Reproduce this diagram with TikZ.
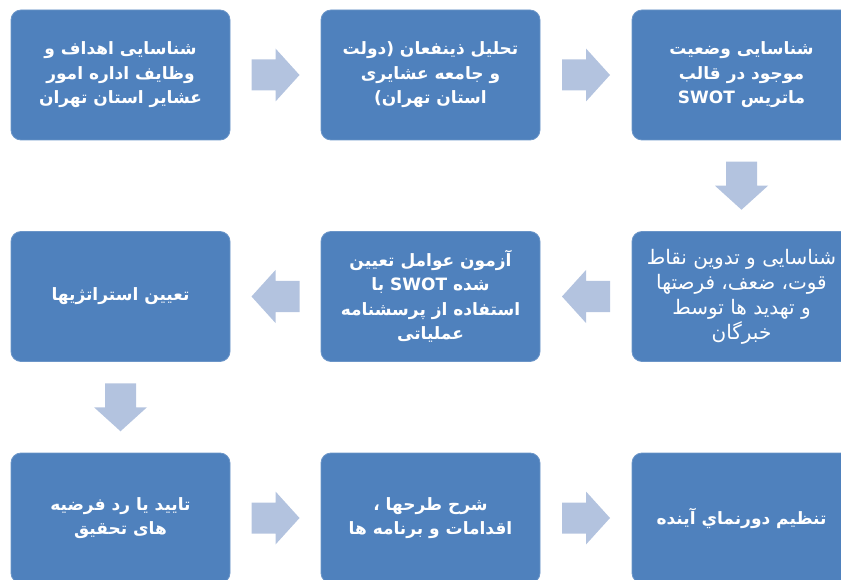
\documentclass[tikz,border=0pt]{standalone}
\usepackage{fontspec}
\TeXXeTstate=1
\newfontfamily\arabicfont[Script=Arabic]{DejaVu Sans}
\usetikzlibrary{calc}
\newcommand{\rl}[1]{\beginR #1\endR}
\newcommand{\lt}[1]{\beginL #1\endL{}}
\definecolor{boxblue}{HTML}{4F81BD}
\definecolor{boxedge}{HTML}{6B95C8}
\definecolor{arrowblue}{HTML}{B3C3DF}
\begin{document}
\begin{tikzpicture}[x=1pt,y=-1pt,
  box/.style={rectangle, rounded corners=10pt, fill=boxblue, draw=boxedge, line width=0.8pt,
    minimum width=219pt, minimum height=130pt, inner sep=0pt, text=white, align=center,
    font=\arabicfont\bfseries\fontsize{17}{24.5}\selectfont},
  plainbox/.style={box, font=\arabicfont\fontsize{20}{25}\selectfont},
  blockarrow/.pic={\fill[arrowblue] (-24,-15.5) -- (0,-15.5) -- (0,-26.5) -- (24,0) -- (0,26.5) -- (0,15.5) -- (-24,15.5) -- cycle;}]
\useasboundingbox (0,0) rectangle (841,580);
\begin{scope}
\clip (0,0) rectangle (841,580);
\node[box] (b1) at (120.5,75) {\rl{شناسایی اهداف و}\\\rl{وظایف اداره امور}\\\rl{عشایر استان تهران}};
\node[box] (b2) at (430.5,75) {\rl{تحلیل ذینفعان (دولت}\\\rl{و جامعه عشایری}\\\rl{استان تهران)}};
\node[box] (b3) at (741.5,75) {\rl{شناسایی وضعیت}\\\rl{موجود در قالب}\\\rl{ماتریس \lt{SWOT}}};
\node[plainbox] (b6) at (741.5,296.5) {\rl{شناسایی و تدوین نقاط}\\\rl{قوت، ضعف، فرصتها}\\\rl{و تهدید ها توسط}\\\rl{خبرگان}};
\node[box] (b5) at (430.5,296.5) {\rl{آزمون عوامل تعیین}\\\rl{شده \lt{SWOT} با}\\\rl{استفاده از پرسشنامه}\\\rl{عملیاتی}};
\node[box] (b4) at (120.5,296.5) {\rl{تعیین استراتژیها}};
\node[box] (b7) at (120.5,518) {\rl{تایید یا رد فرضیه}\\\rl{های تحقیق}};
\node[box] (b8) at (430.5,518) {\rl{شرح طرحها ،}\\\rl{اقدامات و برنامه ها}};
\node[box] (b9) at (741.5,518) {\rl{تنظیم دورنماي آینده}};
\pic at ($(b1.east)!0.5!(b2.west)$) {blockarrow};
\pic at ($(b2.east)!0.5!(b3.west)$) {blockarrow};
\pic[rotate=-90] at ($(b3.south)!0.5!(b6.north)$) {blockarrow};
\pic[rotate=180] at ($(b6.west)!0.5!(b5.east)$) {blockarrow};
\pic[rotate=180] at ($(b5.west)!0.5!(b4.east)$) {blockarrow};
\pic[rotate=-90] at ($(b4.south)!0.5!(b7.north)$) {blockarrow};
\pic at ($(b7.east)!0.5!(b8.west)$) {blockarrow};
\pic at ($(b8.east)!0.5!(b9.west)$) {blockarrow};
\end{scope}
\end{tikzpicture}
\end{document}
